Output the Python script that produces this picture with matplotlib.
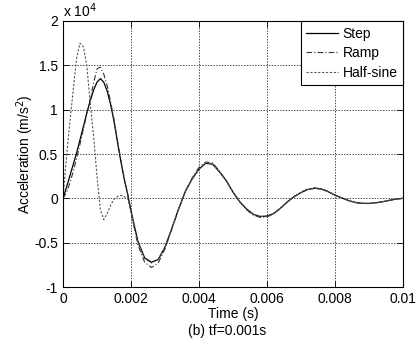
import matplotlib
matplotlib.use("Agg")
import matplotlib.pyplot as plt

# time samples in ms
t_ms = [0.0, 0.1, 0.2, 0.3, 0.4, 0.5, 0.6, 0.7, 0.8, 0.9, 1.0,
        1.1, 1.2, 1.3, 1.4, 1.5, 1.6, 1.7, 1.8, 1.9, 2.0,
        2.2, 2.4, 2.6, 2.8, 3.0, 3.2, 3.4, 3.6, 3.8, 4.0,
        4.2, 4.4, 4.6, 4.8, 5.0, 5.2, 5.4, 5.6, 5.8, 6.0,
        6.2, 6.4, 6.6, 6.8, 7.0, 7.2, 7.4, 7.6, 7.8, 8.0,
        8.2, 8.4, 8.6, 8.8, 9.0, 9.2, 9.4, 9.6, 9.8, 10.0]

# acceleration in units of 1e4 m/s^2
step = [0.0, 0.12, 0.25, 0.38, 0.51, 0.66, 0.81, 0.96, 1.10, 1.22, 1.31,
        1.35, 1.31, 1.21, 1.06, 0.87, 0.64, 0.42, 0.22, 0.05, -0.14,
        -0.48, -0.67, -0.72, -0.69, -0.55, -0.34, -0.12, 0.08, 0.22, 0.33,
        0.395, 0.385, 0.30, 0.20, 0.07, -0.04, -0.12, -0.18, -0.205, -0.20,
        -0.17, -0.11, -0.04, 0.02, 0.065, 0.10, 0.113, 0.105, 0.075, 0.035,
        0.005, -0.025, -0.046, -0.056, -0.057, -0.05, -0.038, -0.022, -0.008, 0.0]

ramp = [0.0, 0.06, 0.17, 0.30, 0.45, 0.61, 0.78, 0.95, 1.12, 1.30, 1.46,
        1.48, 1.40, 1.27, 1.09, 0.89, 0.66, 0.44, 0.23, 0.05, -0.16,
        -0.52, -0.72, -0.78, -0.73, -0.57, -0.35, -0.12, 0.08, 0.23, 0.35,
        0.41, 0.40, 0.31, 0.20, 0.07, -0.04, -0.13, -0.19, -0.215, -0.21,
        -0.175, -0.11, -0.04, 0.02, 0.07, 0.105, 0.118, 0.108, 0.077, 0.036,
        0.004, -0.027, -0.048, -0.058, -0.059, -0.052, -0.04, -0.024, -0.009, 0.0]

halfsine = [0.0, 0.45, 0.85, 1.22, 1.58, 1.75, 1.71, 1.50, 1.08, 0.70, 0.25,
            -0.13, -0.24, -0.17, -0.08, -0.01, 0.02, 0.035, 0.02, 0.0, -0.15,
            -0.49, -0.68, -0.73, -0.69, -0.55, -0.34, -0.12, 0.08, 0.22, 0.335,
            0.40, 0.39, 0.30, 0.20, 0.07, -0.04, -0.12, -0.18, -0.205, -0.20,
            -0.17, -0.11, -0.04, 0.02, 0.065, 0.10, 0.114, 0.105, 0.075, 0.035,
            0.005, -0.025, -0.046, -0.056, -0.057, -0.05, -0.038, -0.022, -0.008, 0.0]

xticks = [0, 0.002, 0.004, 0.006, 0.008, 0.01]
xticklabels = ["0", "0.002", "0.004", "0.006", "0.008", "0.01"]
yticks = [-1, -0.5, 0, 0.5, 1, 1.5, 2]
yticklabels = ["-1", "-0.5", "0", "0.5", "1", "1.5", "2"]

plt.rcParams['font.family'] = ['Liberation Sans', 'DejaVu Sans']
plt.rcParams['font.size'] = 10

fig = plt.figure(figsize=(4.16, 3.42), dpi=100)
ax = fig.add_axes([0.1514, 0.1608, 0.8174, 0.7778])

t = [v / 1000.0 for v in t_ms]
ax.plot(t, step, color='black', lw=0.9, label='Step')
ax.plot(t, ramp, color='#333333', lw=0.8, linestyle=(0, (5, 2, 1, 2)), label='Ramp')
ax.plot(t, halfsine, color='#555555', lw=0.8, linestyle=(0, (2, 1.5)), label='Half-sine')

ax.set_xlim(0, 0.01)
ax.set_ylim(-1, 2)
ax.set_xticks(xticks)
ax.set_xticklabels(xticklabels)
ax.set_yticks(yticks)
ax.set_yticklabels(yticklabels)
ax.tick_params(direction='in', top=True, right=True, length=4, width=0.6, labelsize=10)
ax.grid(True, color='black', linestyle=(0, (2, 2)), lw=0.5)
for s in ax.spines.values():
    s.set_linewidth(0.8)

ax.set_xlabel('Time (s)', labelpad=1)
ax.set_ylabel('Acceleration (m/s$^2$)', labelpad=-1)
ax.text(0.0, 1.005, r'x 10$^4$', transform=ax.transAxes, ha='left', va='bottom', fontsize=10)
fig.text(0.545, 0.012, '(b) tf=0.001s', ha='center', va='bottom', fontsize=10)

leg = ax.legend(loc='upper right', borderaxespad=0, fancybox=False, framealpha=1,
                edgecolor='black', handlelength=2.3, handletextpad=0.3,
                labelspacing=0.4, borderpad=0.4, fontsize=10)
leg.get_frame().set_linewidth(0.8)

fig.savefig('out.png', dpi=100)
